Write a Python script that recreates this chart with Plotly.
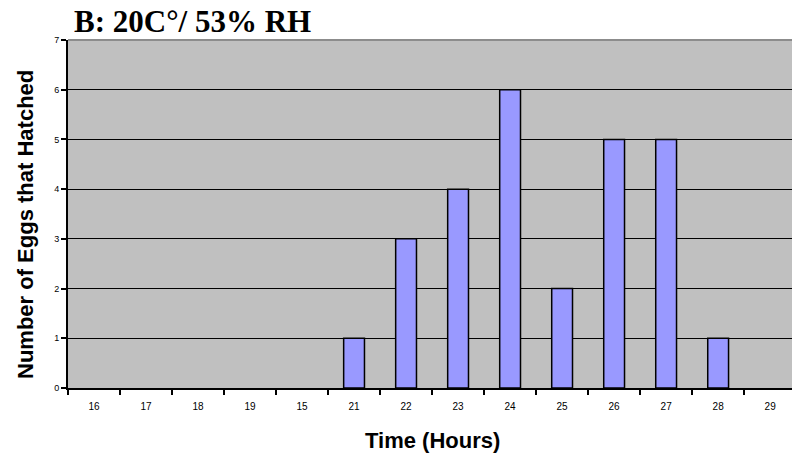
import plotly.graph_objects as go

categories = ["16", "17", "18", "19", "15", "21", "22", "23", "24", "25", "26", "27", "28", "29"]
eggs_hatched = [0, 0, 0, 0, 0, 1, 3, 4, 6, 2, 5, 5, 1, 0]
y_ticks = [0, 1, 2, 3, 4, 5, 6, 7]

W, H = 792, 458
L, R, T, B = 68, 0, 40, H - 388
pw, ph = W - L - R, H - T - B


def px_x(page_x):
    return (page_x - L) / pw


def px_y(page_y):
    return (H - B - page_y) / ph


fig = go.Figure()
fig.add_trace(go.Bar(
    x=categories, y=eggs_hatched,
    marker=dict(color="#9999FF",
                line=dict(color="black", width=[1.5 if v > 0 else 0 for v in eggs_hatched])),
    width=0.4,
))

fig.update_layout(
    width=W, height=H,
    margin=dict(l=L, r=R, t=T, b=B),
    paper_bgcolor="white", plot_bgcolor="#C0C0C0",
    showlegend=False,
    font=dict(family="Liberation Sans, Arial, sans-serif", color="black"),
)
fig.update_xaxes(
    type="category", range=[-0.5, 13.42], automargin=False,
    showgrid=False, showline=True, linecolor="black", linewidth=2,
    ticks="outside", tickson="boundaries", ticklen=5, tickcolor="black", tickwidth=1.5,
    tickfont=dict(size=10), ticklabelstandoff=8,
)
fig.update_yaxes(
    range=[0, 7], tickvals=y_ticks, ticktext=[str(v) for v in y_ticks], automargin=False,
    showgrid=True, gridcolor="black", gridwidth=1,
    showline=True, linecolor="black", linewidth=2,
    ticks="outside", ticklen=5, tickcolor="black", tickwidth=1.5,
    tickfont=dict(size=9), zeroline=False,
)
# top border of plot area (gray)
fig.add_shape(type="line", xref="paper", yref="paper", x0=0, x1=1, y0=1, y1=1,
              line=dict(color="#8C8C8C", width=2))

# chart title
fig.add_annotation(text="<b>B: 20C°/ 53% RH</b>", xref="paper", yref="paper",
                   x=px_x(72), y=px_y(21), xanchor="left", yanchor="middle",
                   showarrow=False,
                   font=dict(family="Liberation Serif, Times New Roman, serif", size=31, color="black"))
# axis titles
fig.add_annotation(text="<b>Number of Eggs that Hatched</b>", xref="paper", yref="paper",
                   x=px_x(26), y=px_y(225), xanchor="center", yanchor="middle",
                   textangle=-90, showarrow=False, font=dict(size=22, color="black"))
fig.add_annotation(text="<b>Time (Hours)</b>", xref="paper", yref="paper",
                   x=px_x(432), y=px_y(440), xanchor="center", yanchor="middle",
                   showarrow=False, font=dict(size=22, color="black"))

fig.write_html("out.html", config={"displayModeBar": False},
               post_script="document.body.style.margin='0px';")
